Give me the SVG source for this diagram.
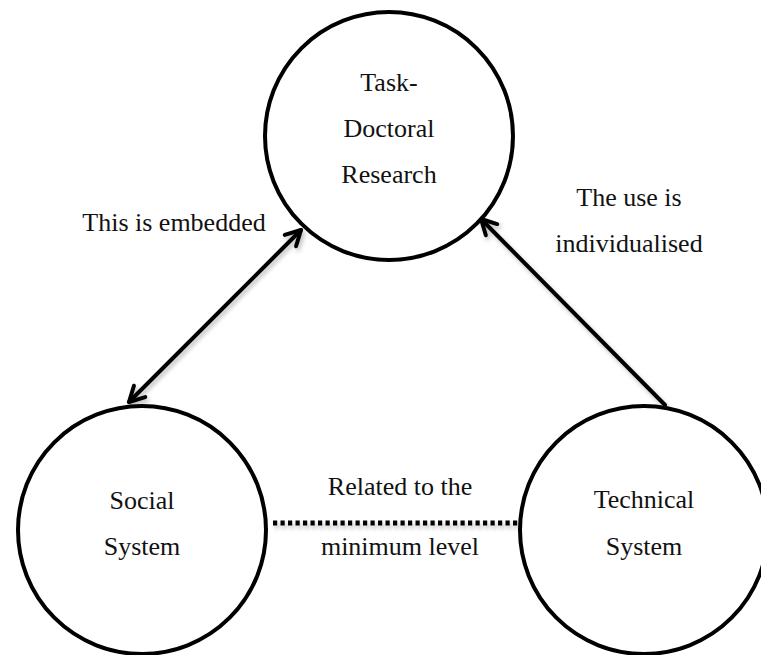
<svg xmlns="http://www.w3.org/2000/svg" width="761" height="655" viewBox="0 0 761 655">
<style>
.node{fill:#fff;stroke:#000;stroke-width:4}
.lbl{font-family:"Liberation Serif","Times New Roman",serif;font-size:26px;fill:#111;text-anchor:middle}
.conn{fill:none;stroke:#000;stroke-width:4;stroke-linecap:round}
</style>
<defs>
<filter id="sh" x="-20%" y="-20%" width="140%" height="140%">
<feDropShadow dx="2" dy="3" stdDeviation="2" flood-color="#000" flood-opacity="0.25"/>
</filter>
<marker id="ah" markerUnits="userSpaceOnUse" viewBox="-20 -12 24 24" refX="0" refY="0" markerWidth="24" markerHeight="24" orient="auto-start-reverse" overflow="visible">
<path d="M-15,-8 L0,0 L-15,8" fill="none" stroke="#000" stroke-width="4" stroke-linecap="round" stroke-linejoin="round"/>
</marker>
</defs>
<rect width="761" height="655" fill="#fff"/>
<g id="connectors" filter="url(#sh)">
<line class="conn" x1="301" y1="230" x2="129" y2="402" marker-start="url(#ah)" marker-end="url(#ah)"/>
<line class="conn" x1="665" y1="405" x2="481" y2="219" marker-end="url(#ah)"/>
<line x1="273" y1="523" x2="518" y2="523" stroke="#000" stroke-width="5" stroke-dasharray="4.2 3.3"/>
</g>
<g id="task">
<circle class="node" cx="389" cy="136" r="124"/>
<text class="lbl" x="389" y="91">Task-</text>
<text class="lbl" x="389" y="137">Doctoral</text>
<text class="lbl" x="389" y="183">Research</text>
</g>
<g id="social">
<circle class="node" cx="142" cy="530" r="124"/>
<text class="lbl" x="142" y="509">Social</text>
<text class="lbl" x="142" y="555">System</text>
</g>
<g id="technical">
<circle class="node" cx="644" cy="530" r="124"/>
<text class="lbl" x="644" y="508">Technical</text>
<text class="lbl" x="644" y="555">System</text>
</g>
<g id="labels">
<text class="lbl" x="174" y="231">This is embedded</text>
<text class="lbl" x="629" y="206">The use is</text>
<text class="lbl" x="629" y="252">individualised</text>
<text class="lbl" x="400" y="495">Related to the</text>
<text class="lbl" x="400" y="555">minimum level</text>
</g>
</svg>
